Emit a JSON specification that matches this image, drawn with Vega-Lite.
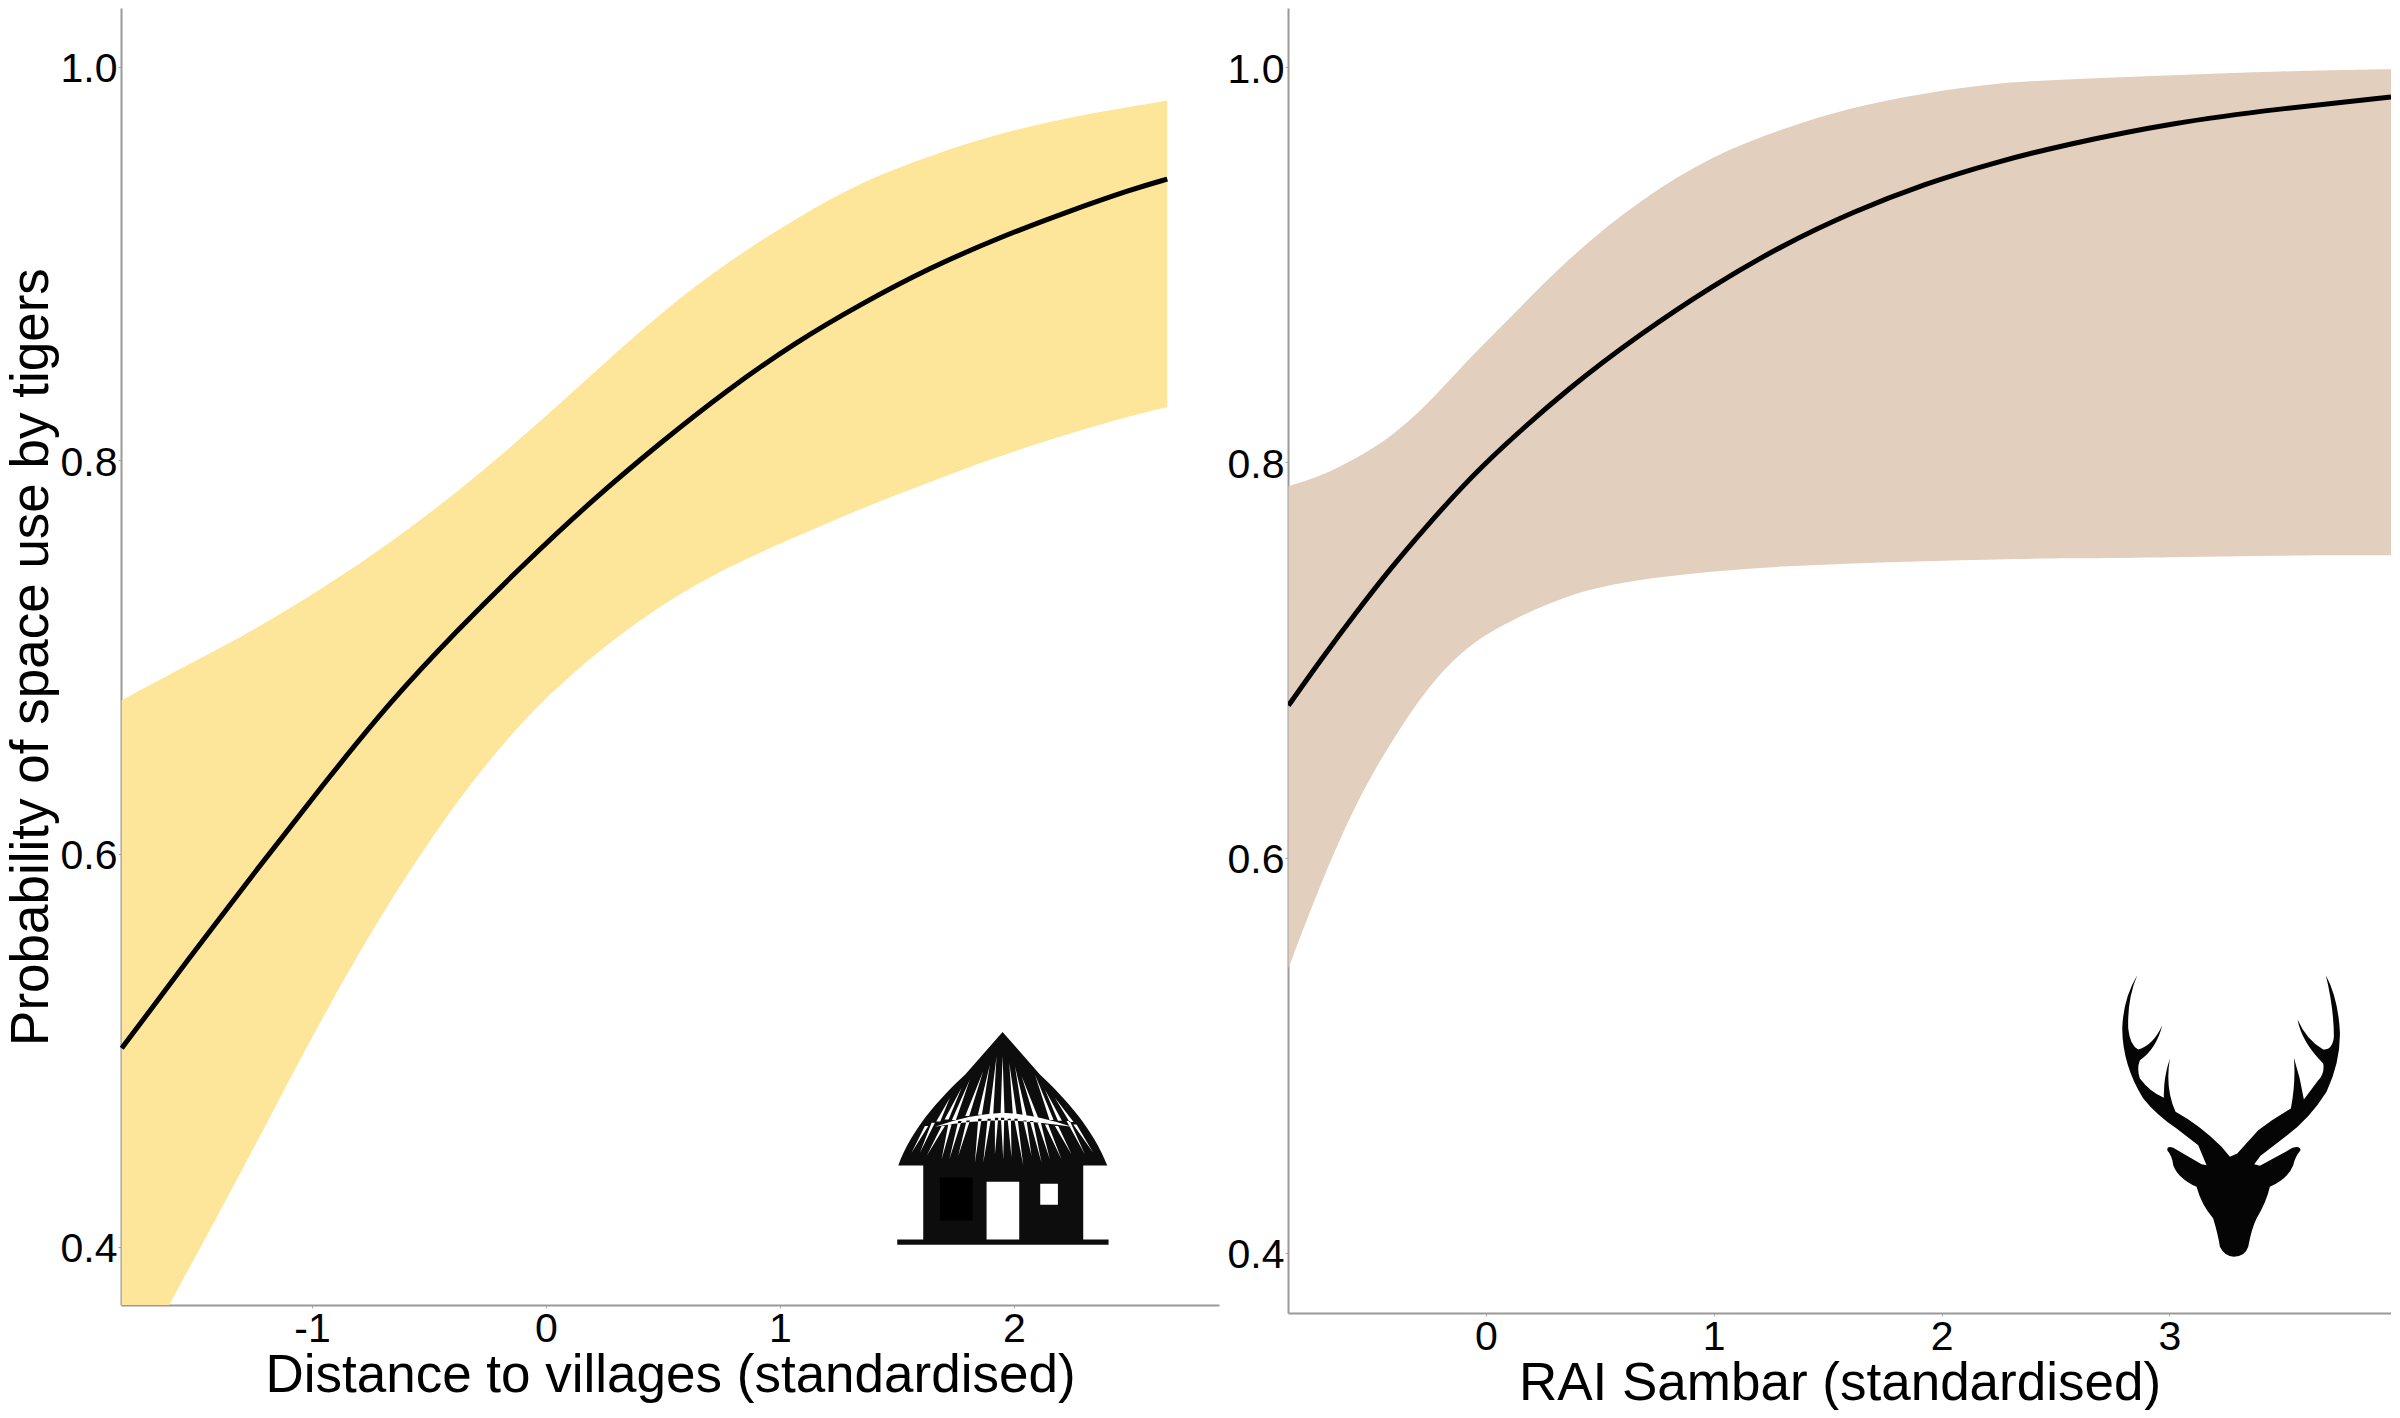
{"$schema":"https://vega.github.io/schema/vega-lite/v6.json","background":"white","padding":{"left":5,"top":8,"right":0,"bottom":0},"bounds":"flush","spacing":69,"config":{"view":{"stroke":null},"font":"Liberation Sans","axis":{"grid":false,"domainColor":"#999999","domainWidth":2,"tickColor":"#aaaaaa","tickSize":3,"tickWidth":1,"labelColor":"#000000","labelFontSize":41,"labelFont":"Liberation Sans","titleFont":"Liberation Sans","titleFontWeight":"normal","titleColor":"#000000","titleFontSize":53,"titleBaseline":"alphabetic","labelPadding":1,"labelOverlap":false,"labelFlush":false}},"hconcat":[{"width":1098,"height":1297,"data":{"values":[{"x":-1.813,"lower":0.326,"mean":0.501,"upper":0.678},{"x":-1.53,"lower":0.388,"mean":0.546,"upper":0.696},{"x":-1.242,"lower":0.4515,"mean":0.591,"upper":0.714},{"x":-0.953,"lower":0.518,"mean":0.635,"upper":0.735},{"x":-0.665,"lower":0.577,"mean":0.6775,"upper":0.758},{"x":-0.376,"lower":0.628,"mean":0.714,"upper":0.784},{"x":-0.088,"lower":0.67,"mean":0.748,"upper":0.813},{"x":0.2,"lower":0.701,"mean":0.78,"upper":0.844},{"x":0.489,"lower":0.7266,"mean":0.809,"upper":0.875},{"x":0.777,"lower":0.746,"mean":0.836,"upper":0.901},{"x":1.066,"lower":0.761,"mean":0.86,"upper":0.923},{"x":1.354,"lower":0.776,"mean":0.88,"upper":0.942},{"x":1.642,"lower":0.789,"mean":0.898,"upper":0.955},{"x":1.931,"lower":0.802,"mean":0.913,"upper":0.966},{"x":2.219,"lower":0.813,"mean":0.926,"upper":0.974},{"x":2.508,"lower":0.823,"mean":0.938,"upper":0.98},{"x":2.655,"lower":0.827,"mean":0.943,"upper":0.983}]},"encoding":{"x":{"field":"x","type":"quantitative","scale":{"domain":[-1.816,2.876],"nice":false,"zero":false},"axis":{"values":[-1,0,1,2],"labelExpr":"toString(datum.value)","title":"Distance to villages (standardised)","titleY":86}}},"layer":[{"mark":{"type":"area","color":"#FDE699","clip":true,"interpolate":"basis"},"encoding":{"y":{"field":"lower","type":"quantitative","scale":{"domain":[0.3705,1.03],"nice":false,"zero":false},"axis":{"values":[0.4,0.6,0.8,1.0],"format":".1f","labelOffset":3,"title":"Probability of space use by tigers","titleX":-74}},"y2":{"field":"upper"}}},{"mark":{"type":"line","color":"#000000","strokeWidth":5,"interpolate":"basis"},"encoding":{"y":{"field":"mean","type":"quantitative"}}},{"data":{"values":[{"x":1.427,"y":0.5157}]},"mark":{"type":"point","filled":true,"opacity":1,"size":0.4444,"color":"#0d0d0d","strokeWidth":0,"shape":"M368,38 L480,165 C560,240 640,330 682,438 L610,438 L610,660 L686,660 L686,676 L52,676 L52,660 L130,660 L130,438 L55,438 C95,330 175,240 256,165 Z"},"encoding":{"y":{"field":"y","type":"quantitative"}}},{"data":{"values":[{"x":1.427,"y":0.5157}]},"mark":{"type":"point","filled":true,"opacity":1,"size":0.4444,"color":"#000000","strokeWidth":0,"shape":"M180,474 H278 V603 H180 Z"},"encoding":{"y":{"field":"y","type":"quantitative"}}},{"data":{"values":[{"x":1.427,"y":0.5157}]},"mark":{"type":"point","filled":true,"opacity":1,"size":0.4444,"color":"#ffffff","strokeWidth":0,"shape":"M320,487 H418 V660 H320 Z M481,493 H534 V556 H481 Z M350,110 L340,285 L328,285 Z M368,110 L374,285 L362,285 Z M388,130 L411,288 L399,288 Z M405,140 L441,292 L429,292 Z M425,170 L476,298 L464,298 Z M465,165 L521,302 L509,302 Z M495,210 L546,304 L534,304 Z M525,235 L581,308 L569,308 Z M310,155 L268,290 L256,290 Z M330,135 L306,286 L294,286 Z M270,180 L228,302 L216,302 Z M245,205 L206,300 L194,300 Z M210,235 L181,306 L169,306 Z M165,322 Q270,284 368,280 Q465,284 575,322 Q460,304 368,302 Q270,304 165,322 Z M355,295 L345,295 L345,405 Z M373,295 L363,295 L370,420 Z M393,298 L383,298 L395,415 Z M413,298 L403,298 L430,438 Z M440,303 L430,303 L455,410 Z M460,305 L450,305 L485,430 Z M483,310 L473,310 L510,420 Z M505,315 L495,315 L545,420 Z M535,320 L525,320 L575,405 Z M570,305 L560,305 L615,405 Z M590,315 L580,315 L640,400 Z M333,298 L323,298 L310,430 Z M305,298 L295,298 L285,430 Z M270,303 L260,303 L235,410 Z M245,305 L235,305 L208,420 Z M215,315 L205,315 L185,420 Z M195,320 L185,320 L140,410 Z M165,310 L155,310 L120,400 Z M145,320 L135,320 L95,400 Z"},"encoding":{"y":{"field":"y","type":"quantitative"}}}]},{"width":1103,"height":1305,"data":{"values":[{"x":-0.867,"lower":0.544,"mean":0.677,"upper":0.788},{"x":-0.726,"lower":0.587,"mean":0.7,"upper":0.793},{"x":-0.571,"lower":0.628,"mean":0.724,"upper":0.802},{"x":-0.415,"lower":0.659,"mean":0.747,"upper":0.813},{"x":-0.259,"lower":0.686,"mean":0.768,"upper":0.829},{"x":-0.103,"lower":0.705,"mean":0.788,"upper":0.849},{"x":0.053,"lower":0.717,"mean":0.806,"upper":0.867},{"x":0.365,"lower":0.734,"mean":0.838,"upper":0.904},{"x":0.677,"lower":0.741,"mean":0.865,"upper":0.933},{"x":0.988,"lower":0.745,"mean":0.889,"upper":0.955},{"x":1.301,"lower":0.7475,"mean":0.91,"upper":0.969},{"x":1.613,"lower":0.749,"mean":0.927,"upper":0.98},{"x":1.924,"lower":0.75,"mean":0.941,"upper":0.987},{"x":2.237,"lower":0.751,"mean":0.952,"upper":0.992},{"x":2.548,"lower":0.7515,"mean":0.961,"upper":0.994},{"x":3.016,"lower":0.752,"mean":0.972,"upper":0.996},{"x":3.484,"lower":0.753,"mean":0.979,"upper":0.998},{"x":3.973,"lower":0.753,"mean":0.985,"upper":0.999}]},"encoding":{"x":{"field":"x","type":"quantitative","scale":{"domain":[-0.869,3.973],"nice":false,"zero":false},"axis":{"values":[0,1,2,3],"format":"d","title":"RAI Sambar (standardised)","titleY":86}}},"layer":[{"mark":{"type":"area","color":"#E2CFBD","clip":true,"interpolate":"basis"},"encoding":{"y":{"field":"lower","type":"quantitative","scale":{"domain":[0.3696,1.03],"nice":false,"zero":false},"axis":{"values":[0.4,0.6,0.8,1.0],"format":".1f","labelOffset":3,"title":null}},"y2":{"field":"upper"}}},{"mark":{"type":"line","color":"#000000","strokeWidth":5,"clip":true,"interpolate":"basis"},"encoding":{"y":{"field":"mean","type":"quantitative"}}},{"data":{"values":[{"x":2.739,"y":0.5456}]},"mark":{"type":"point","filled":true,"opacity":1,"size":0.4444,"color":"#050505","strokeWidth":0,"shape":"M82,30 Q40,100 37,190 Q38,300 100,400 Q140,450 200,490 L265,540 L290,600 L275,597 L190,548 Q172,540 172,555 Q187,572 190,600 Q205,640 260,665 Q275,720 310,760 Q325,810 330,845 Q345,875 372,875 Q405,875 415,845 Q425,790 440,760 Q470,710 480,665 Q535,640 550,600 Q555,575 572,555 Q570,540 548,548 L450,602 L433,597 L452,572 L530,512 Q600,460 650,380 Q692,290 690,200 Q685,100 648,30 Q672,130 672,215 Q668,255 640,253 Q590,225 563,163 Q575,230 640,295 Q645,325 625,345 L582,403 Q572,340 552,278 Q558,350 543,430 Q490,460 445,495 L382,565 L360,575 L335,545 Q270,480 197,440 Q165,370 180,280 Q160,340 162,398 Q120,380 90,340 Q80,310 90,285 Q140,250 157,180 Q130,240 85,253 Q60,240 55,190 Q52,100 82,30 Z"},"encoding":{"y":{"field":"y","type":"quantitative"}}}]}]}
